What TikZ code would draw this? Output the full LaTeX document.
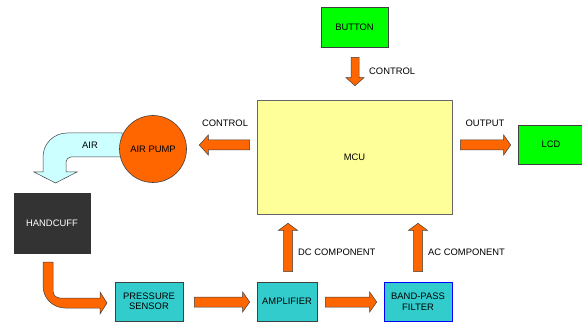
\documentclass[tikz,border=0pt]{standalone}
\usepackage{fontspec}
\setmainfont{Liberation Sans}
\usetikzlibrary{calc}
\definecolor{orng}{HTML}{FF6600}
\definecolor{cyanbox}{HTML}{33CCCC}
\definecolor{grn}{HTML}{00FF00}
\definecolor{mcuy}{HTML}{FFFF99}
\definecolor{airc}{HTML}{CCFFFF}
\definecolor{darkbox}{HTML}{333333}
\definecolor{edgec}{HTML}{404040}
\newcommand\blockarr[5]{%
  \coordinate (bac) at ($(#2)!#5!(#1)$);
  \draw[barrow] ($(#1)!#3!90:(#2)$) -- ($(bac)!#3!-90:(#1)$) -- ($(bac)!#4!-90:(#1)$) -- (#2)
     -- ($(bac)!#4!90:(#1)$) -- ($(bac)!#3!90:(#1)$) -- ($(#1)!#3!-90:(#2)$) -- cycle;}
\tikzset{
  lbl/.style={font=\fontsize{9.4}{10.5}\selectfont, inner sep=0pt},
  box/.style={lbl, draw=edgec, line width=0.6pt, align=center},
  barrow/.style={fill=orng, draw=edgec, line width=0.5pt},
  airarrow/.style={fill=airc, draw=edgec, line width=0.5pt},
}
\begin{document}
\begin{tikzpicture}[x=1pt,y=1pt]
\useasboundingbox (0,0) rectangle (582,322);
% nodes
\node[box, fill=grn, minimum width=67pt, minimum height=40pt] (button) at (354.5,295) {BUTTON};
\node[box, fill=mcuy, draw=gray!80!black, minimum width=195pt, minimum height=114pt] (mcu) at (354.5,165) {MCU};
\node[box, fill=grn, minimum width=66pt, minimum height=39pt] (lcd) at (551,177.5) {LCD};
\node[box, fill=darkbox, text=white, draw=black!80, minimum width=76pt, minimum height=60pt] (handcuff) at (52,99) {HANDCUFF};
\node[box, fill=cyanbox, minimum width=68pt, minimum height=39pt] (sensor) at (149,20.5) {PRESSURE\\SENSOR};
\node[box, fill=cyanbox, minimum width=60pt, minimum height=39pt] (amp) at (287,20.5) {AMPLIFIER};
\node[box, fill=cyanbox, draw=blue, minimum width=68pt, minimum height=39pt] (bpf) at (418,20.5) {BAND-PASS\\FILTER};
% air arrow (behind pump)
\draw[airarrow] (122,189) -- (67,189) arc[start angle=90, end angle=180, radius=24]
  -- (43,150) -- (34,150) -- (55.5,139) -- (77,150) -- (66,150) -- (66,160)
  arc[start angle=180, end angle=90, radius=5] -- (122,165) -- cycle;
\node[lbl] (airlbl) at (90,177) {AIR};
\node[box, circle, fill=orng, minimum size=67pt] (pump) at (153,173) {AIR PUMP};
% block arrows
\coordinate (c1a) at ($(button.south)+(0.5,-10)$);
\coordinate (c1b) at ($(mcu.north)+(0.5,14)$);
\blockarr{c1a}{c1b}{4pt}{9pt}{8pt}
\node[lbl, anchor=west] (ctl1) at (369,251) {CONTROL};
\coordinate (c2a) at ($(mcu.west)+(-7,12)$);
\coordinate (c2b) at ($(pump.east)+(12.5,4)$);
\blockarr{c2a}{c2b}{5pt}{10pt}{9pt}
\node[lbl] (ctl2) at (225,199) {CONTROL};
\coordinate (c3a) at ($(mcu.east)+(8,12)$);
\coordinate (c3b) at ($(lcd.west)+(-7,-0.5)$);
\blockarr{c3a}{c3b}{5pt}{10pt}{7pt}
\node[lbl] (outlbl) at (485,199) {OUTPUT};
\coordinate (c4a) at ($(sensor.east)+(11,-0.5)$);
\coordinate (c4b) at ($(amp.west)+(-7,-0.5)$);
\blockarr{c4a}{c4b}{5pt}{10pt}{7pt}
\coordinate (c5a) at ($(amp.east)+(8,-0.5)$);
\coordinate (c5b) at ($(bpf.west)+(-7,-0.5)$);
\blockarr{c5a}{c5b}{5pt}{10pt}{7pt}
\coordinate (c6a) at ($(amp.north)+(1,10)$);
\coordinate (c6b) at ($(mcu.south)+(-66.5,-9)$);
\blockarr{c6a}{c6b}{4.5pt}{9.5pt}{7pt}
\node[lbl, anchor=west] (dclbl) at (298,70) {DC COMPONENT};
\coordinate (c7a) at ($(bpf.north)+(0,10)$);
\coordinate (c7b) at ($(mcu.south)+(63.5,-9)$);
\blockarr{c7a}{c7b}{4.5pt}{9.5pt}{7pt}
\node[lbl, anchor=west] (aclbl) at (428,70) {AC COMPONENT};
% curved arrow handcuff -> sensor
\draw[barrow] (43,60) -- (43,36) arc[start angle=180, end angle=270, radius=22]
  -- (100,14) -- (100,8) -- (107,19) -- (100,30) -- (100,24) -- (60,24)
  arc[start angle=270, end angle=180, radius=7] -- (53,60) -- cycle;
\end{tikzpicture}
\end{document}
